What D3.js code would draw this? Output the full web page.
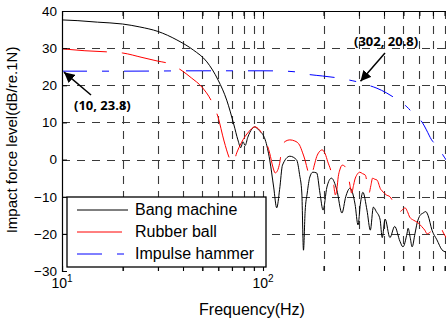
<!DOCTYPE html>
<html>
<head>
<meta charset="utf-8">
<script src="https://cdn.jsdelivr.net/npm/d3@7"></script>
<style>
  body { margin: 0; background: #fff; }
  svg text { font-family: "Liberation Sans", Arial, sans-serif; fill: #000; }
</style>
</head>
<body>
<div id="chart"></div>
<script>
// Bang machine
const bangFreq = [10,12,15,20,24.4,30,37.3,45,52.6,59.8,66,71.7,75,77.5,79.5,81.5,84,88,91,95,
  102.6,108,113,117,121,125,136,147,152,156,159,162,166,171,177,185,192,199,208,219,
  233,247,258,271,287,297,305,314,329,342,354,366,382,392,405,428,452,480,497,521,
  527,540,552,570,585,605,626,645,662,693,733,777,815,850];
const bangLevel = [37.6,37.4,37,36.5,35.7,34.5,32.2,29.5,26.3,21.4,16,9.3,5.3,3.2,4.8,3.8,6,8.2,8.8,8,
  5.3,-0.1,-7.4,-13,-8,-1.5,0.9,-0.1,-4,-9,-24.4,-14,-9,-4.7,-3.4,-3.6,-9,-13.6,-7.4,-5,
  -8.2,-14.4,-10,-7.7,-12,-17.6,-12,-8.8,-13.6,-19,-12.8,-14,-16,-21,-16,-21,-18,-22,-23.5,-19.8,
  -18.5,-21,-23.5,-20,-17,-15,-14.4,-14,-15,-19,-21.6,-24.3,-25,-26];

// Rubber ball
const ballFreq = [10,13,16.7,20,25,30,33.3,39.1,44,49.7,55.7,59.7,64,68.6,71,74,78,85,91,96,
  100,104,108,112,115,118,121,125,130,136,144,152,157,162,167,171,175,180,185,190,
  197,204,210,219,225,229,233,237,241,248,255,263,271,276,282,286,294,303,313,323,
  330,337,344,351,360,369,385,396,410,428,446,464,480,494,509,523,537,560,590,615,
  638,656,680,700,740,770,786,815,850];
const ballLevel = [29.8,29.3,29,28.7,27.5,26.5,26,24.1,22,19.5,15.5,11.5,5,0,-1,1.8,4.5,7.5,8.8,8,
  6.5,4.5,1.7,-2,-3.6,-3,-1,3.9,5,5.3,5,3.9,2,-0.2,-3,-4.7,-4,-1.5,0.8,2,
  2.6,1.5,-0.6,-3.6,-7,-9.5,-8,-4.5,-2.8,-1.5,-1.8,-3.3,-7,-9,-7,-5.5,-4,-3.4,-3.8,-4.2,
  -6.5,-9,-7,-5,-5.3,-5.5,-8,-8.7,-9.5,-10,-11.5,-13,-14,-13.5,-13,-14,-15.5,-16.3,-17,-18,
  -19,-20,-19.5,-19,-18,-18.5,-19.5,-21,-22];

// Impulse hammer
const hammerFreq = [10,20,50,100,130,150,165,198,241,280,302,335,369,410,452,490,520,550,590,620,650,690,730,760,790,815,850];
const hammerLevel = [23.8,23.8,23.9,23.9,23.8,23.5,23,22.5,21.9,21.2,20.8,20,19.2,18,16.6,15.3,14.2,12.8,11.3,10,8,5.3,3.8,2.6,1,-0.1,-2];

const yTicks = [-30,-20,-10,0,10,20,30,40];
const xMajor = [10,100];
const seriesNames = ["Bang machine","Rubber ball","Impulse hammer"];
const notes = [
  {label: "(10, 23.8)", f: 10, v: 23.8},
  {label: "(302, 20.8)", f: 302, v: 20.8}
];

const W = 446, H = 322;
const svg = d3.select("#chart").append("svg")
  .attr("width", W).attr("height", H)
  .style("display", "block");

svg.append("rect").attr("width", W).attr("height", H).attr("fill", "#fff");

// scales (plot box continues past the right edge, as in the cropped figure)
const x = d3.scaleLog().domain([10, 1000]).range([62, 464]);
const y = d3.scaleLinear().domain([-30, 40]).range([271, 11]);

const minorX = [];
[10, 100].forEach(d => { for (let k = 2; k <= 9; k++) minorX.push(d * k); });

svg.append("clipPath").attr("id", "plotclip")
  .append("rect").attr("x", 62).attr("y", 11).attr("width", 402).attr("height", 260);

// grid
const grid = svg.append("g").attr("clip-path", "url(#plotclip)")
  .attr("stroke", "#3a3a3a").attr("stroke-width", 1.1).attr("stroke-dasharray", "8,7");
grid.selectAll(".gx").data(minorX.concat([100]))
  .enter().append("line")
  .attr("x1", d => Math.round(x(d)) + 0.5).attr("x2", d => Math.round(x(d)) + 0.5)
  .attr("y1", y(40)).attr("y2", y(-30));
grid.selectAll(".gy").data(yTicks.filter(d => d > -30 && d < 40))
  .enter().append("line")
  .attr("y1", d => Math.round(y(d)) + 0.5).attr("y2", d => Math.round(y(d)) + 0.5)
  .attr("x1", x(10)).attr("x2", x(1000));

// curves
const line = d3.line()
  .x(d => x(d[0])).y(d => y(d[1]))
  .curve(d3.curveMonotoneX);

const series = [
  {name: seriesNames[0], pts: d3.zip(bangFreq, bangLevel), color: "#000", dash: null},
  {name: seriesNames[1], pts: d3.zip(ballFreq, ballLevel), color: "#ff0000", dash: "45,15"},
  {name: seriesNames[2], pts: d3.zip(hammerFreq, hammerLevel), color: "#0000ff", dash: "25,15,7,15"}
];

const plot = svg.append("g").attr("clip-path", "url(#plotclip)");
plot.selectAll(".curve").data(series)
  .enter().append("path")
  .attr("class", "curve")
  .attr("d", d => line(d.pts))
  .attr("fill", "none")
  .attr("stroke", d => d.color)
  .attr("stroke-width", 1)
  .attr("stroke-dasharray", d => d.dash);

// axes: box lines and inward ticks
const axisG = svg.append("g").attr("clip-path", "url(#plotclip)");
const xAxisBottom = d3.axisBottom(x).tickValues(minorX.concat(xMajor)).tickSize(-5).tickFormat("");
const xAxisTop = d3.axisTop(x).tickValues(minorX.concat(xMajor)).tickSize(-5).tickFormat("");
axisG.append("g").attr("transform", `translate(0,${y(-30)})`).call(xAxisBottom);
axisG.append("g").attr("transform", `translate(0,${y(40)})`).call(xAxisTop);

const yAxis = d3.axisLeft(y).tickValues(yTicks).tickSize(-5).tickPadding(5);
const yG = svg.append("g").attr("transform", `translate(${x(10)},0)`).call(yAxis);
yG.selectAll("text").style("font-size", "13.5px")
  .style("font-family", "'Liberation Sans', Arial, sans-serif");
svg.selectAll(".domain").attr("stroke", "#000").attr("stroke-width", 1.2);
svg.selectAll(".tick line").attr("stroke", "#000");

// x labels 10^n
const xl = svg.selectAll(".xlab").data(xMajor).enter().append("text")
  .attr("x", d => x(d)).attr("y", 288)
  .attr("text-anchor", "middle")
  .style("font-size", "14px");
xl.append("tspan").text("10");
xl.append("tspan").attr("dy", -6).style("font-size", "10px").text(d => Math.round(Math.log10(d)));

svg.append("text").attr("x", 252).attr("y", 315).attr("text-anchor", "middle")
  .style("font-size", "16px").text("Frequency(Hz)");

svg.append("text")
  .attr("transform", "translate(17,140) rotate(-90)")
  .attr("text-anchor", "middle")
  .style("font-size", "15px")
  .text("Impact force level(dB/re.1N)");

// legend
const lg = svg.append("g");
lg.append("rect").attr("x", 67).attr("y", 197).attr("width", 199).attr("height", 70)
  .attr("fill", "#fff").attr("stroke", "#000").attr("stroke-width", 1.3);
const li = lg.selectAll(".li").data(series).enter().append("g")
  .attr("transform", (d, i) => `translate(0,${210 + i * 22})`);
li.append("line").attr("x1", 77).attr("x2", 128).attr("y1", 0).attr("y2", 0)
  .attr("stroke", d => d.color).attr("stroke-width", 1)
  .attr("stroke-dasharray", d => d.dash);
li.append("text").attr("x", 135).attr("y", 5).style("font-size", "16px").text(d => d.name);

// annotations
svg.append("defs").append("marker")
  .attr("id", "head").attr("viewBox", "0 0 10 10")
  .attr("refX", 10).attr("refY", 5)
  .attr("markerWidth", 7).attr("markerHeight", 7)
  .attr("orient", "auto")
  .append("path").attr("d", "M0,0 L10,5 L0,10 z").attr("fill", "#000");

const arrows = [
  {x1: 91, y1: 95, tx: 74, ty: 110},
  {x1: 385, y1: 53, tx: 354, ty: 46}
];
notes.forEach((n, i) => {
  const a = arrows[i];
  svg.append("line")
    .attr("x1", a.x1).attr("y1", a.y1)
    .attr("x2", x(n.f) + (i === 0 ? 2 : 1)).attr("y2", y(n.v) + (i === 0 ? 1 : -1))
    .attr("stroke", "#000").attr("stroke-width", 1.5)
    .attr("marker-end", "url(#head)");
  svg.append("text").attr("x", a.tx).attr("y", a.ty)
    .style("font-family", "'Open Sans', sans-serif")
    .style("font-weight", 700).style("font-size", "13px")
    .text(n.label);
});
</script>
</body>
</html>
